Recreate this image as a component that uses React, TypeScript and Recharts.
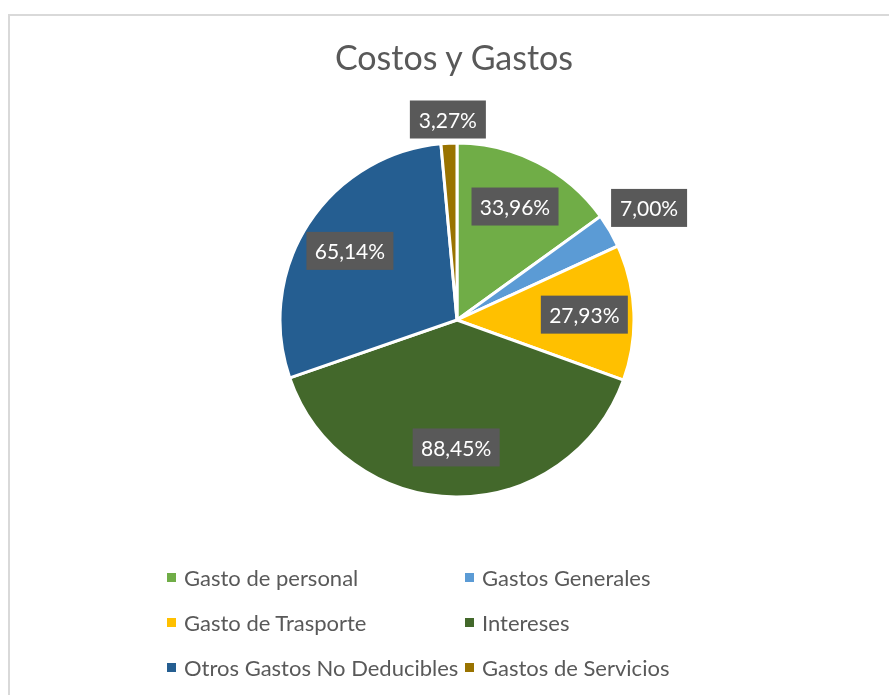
import React from 'react';
import { PieChart, Pie, Cell, Legend } from 'recharts';

const title = 'Costos y Gastos';
const categories = [
  'Gasto de personal',
  'Gastos Generales',
  'Gasto de Trasporte',
  'Intereses',
  'Otros Gastos No Deducibles',
  'Gastos de Servicios',
];
const values = [33.96, 7.0, 27.93, 88.45, 65.14, 3.27];
const valueLabels = ['33,96%', '7,00%', '27,93%', '88,45%', '65,14%', '3,27%'];
const colors = ['#70AD47', '#5B9BD5', '#FFC000', '#43682B', '#255E91', '#997300'];

const data = categories.map((name, i) => ({ name, value: values[i], label: valueLabels[i] }));

const FONT = 'Lato, "Open Sans", sans-serif';
const RAD = Math.PI / 180;

const renderLabel = (props: any) => {
  const { cx, cy, midAngle, outerRadius, percent, index } = props;
  const text = valueLabels[index];
  const w = 21 + text.length * 11;
  const h = 38;
  const ux = Math.cos(-midAngle * RAD);
  const uy = Math.sin(-midAngle * RAD);
  let r: number;
  if (percent < 0.05) {
    r = outerRadius + 3 + Math.abs((w / 2) * ux) + Math.abs((h / 2) * uy);
  } else {
    r = outerRadius * 0.72;
  }
  const x = cx + r * ux;
  const y = cy + r * uy;
  return (
    <g key={`lbl-${index}`}>
      <rect x={x - w / 2} y={y - h / 2} width={w} height={h} fill="#595959" />
      <text
        x={x}
        y={y}
        fill="#ffffff"
        textAnchor="middle"
        dominantBaseline="central"
        fontFamily={FONT}
        fontSize={21}
      >
        {text}
      </text>
    </g>
  );
};

const renderLegend = () => {
  return (
    <div style={{ position: 'relative', width: 620, height: 140, fontFamily: FONT }}>
      {categories.map((name, i) => {
        const col = i % 2;
        const row = Math.floor(i / 2);
        return (
          <div
            key={name}
            style={{
              position: 'absolute',
              left: col * 298,
              top: row * 45,
              height: 26,
              display: 'flex',
              alignItems: 'center',
              whiteSpace: 'nowrap',
            }}
          >
            <div style={{ width: 9, height: 9, background: colors[i], marginRight: 8 }} />
            <span style={{ fontSize: 22, color: '#595959' }}>{name}</span>
          </div>
        );
      })}
    </div>
  );
};

export default function App() {
  return (
    <div>
      <div
        style={{
          position: 'fixed',
          left: 8,
          top: 14,
          width: 900,
          height: 700,
          border: '2px solid #d9d9d9',
          boxSizing: 'border-box',
          pointerEvents: 'none',
        }}
      />
      <div
        style={{
          position: 'fixed',
          left: 0,
          top: 0,
          width: 889,
          height: 695,
          overflow: 'hidden',
        }}
      >
        <div
          style={{
            position: 'absolute',
            left: 0,
            width: 908,
            top: 37,
            textAlign: 'center',
            fontFamily: FONT,
            fontSize: 34,
            color: '#595959',
            lineHeight: '40px',
          }}
        >
          {title}
        </div>
        <div style={{ position: 'absolute', left: 0, top: 0 }}>
          <PieChart width={889} height={695} margin={{ top: 0, right: 0, bottom: 0, left: 0 }}>
            <Pie
              data={data}
              dataKey="value"
              nameKey="name"
              cx={457}
              cy={320}
              outerRadius={177}
              startAngle={90}
              endAngle={-270}
              stroke="#ffffff"
              strokeWidth={3}
              label={renderLabel}
              labelLine={false}
              isAnimationActive={false}
            >
              {data.map((d, i) => (
                <Cell key={d.name} fill={colors[i]} />
              ))}
            </Pie>
            <Legend
              content={renderLegend}
              wrapperStyle={{ position: 'absolute', left: 167, top: 564, width: 620 }}
            />
          </PieChart>
        </div>
      </div>
    </div>
  );
}
